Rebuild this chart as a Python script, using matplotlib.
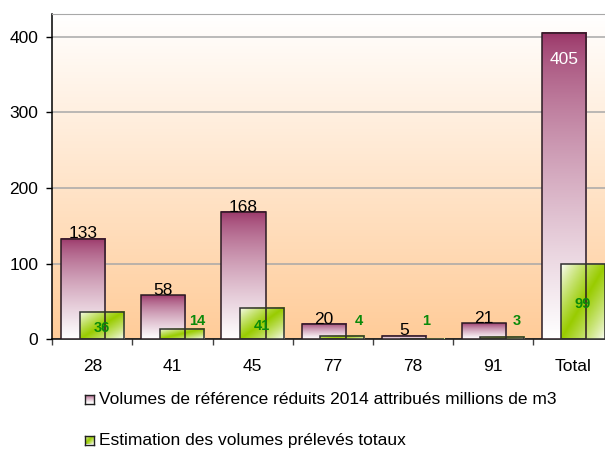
import numpy as np
import matplotlib
matplotlib.use('Agg')
import matplotlib.pyplot as plt
from matplotlib.colors import to_rgb

plt.rcParams['font.family'] = ['Liberation Sans', 'DejaVu Sans']

# data
categories = ['28', '41', '45', '77', '78', '91', 'Total']
volumes_reference = [133, 58, 168, 20, 5, 21, 405]
volumes_preleves = [36, 14, 41, 4, 1, 3, 99]
legend_labels = ['Volumes de référence réduits 2014 attribués millions de m3',
                 'Estimation des volumes prélevés totaux']

PURPLE = to_rgb('#993366')
GREEN = to_rgb('#99cc00')
WHITE = np.array([1.0, 1.0, 1.0])
PEACH = to_rgb('#ffcc99')


def vertical_gradient(top, bottom, n=100, gamma=1.0):
    t = (np.linspace(0, 1, n) ** gamma)[:, None]
    col = (1 - t) * np.array(top) + t * np.array(bottom)
    return col[:, None, :]


def diagonal_gradient(mid, n=60):
    i, j = np.mgrid[0:n, 0:n] / (n - 1)
    t = (i + j) / 2
    w = np.clip(1 - np.abs(t - 0.5) * 2, 0, 1) ** 0.8
    w = w[..., None]
    return w * np.array(mid) + (1 - w) * WHITE


def gradient_bar(ax, x, h, width, img, edge):
    ax.imshow(img, extent=[x - width / 2, x + width / 2, 0, h], aspect='auto',
              interpolation='bilinear', zorder=3)
    ax.bar(x, h, width, facecolor='none', edgecolor=edge, linewidth=1.1, zorder=4)


fig = plt.figure(figsize=(6.05, 4.51), dpi=100)
ax = fig.add_axes([0.0864, 0.2477, 0.9276, 0.7213])

# background gradient of the plot area
ax.imshow(vertical_gradient(WHITE, PEACH), extent=[0, 1, 0, 1], aspect='auto',
          transform=ax.transAxes, interpolation='bilinear', zorder=0)

x = np.arange(len(categories))
width = 0.55
offset = 0.115

purple_img = vertical_gradient(PURPLE, WHITE, gamma=0.7)
green_img = diagonal_gradient(GREEN)

for i in range(len(categories)):
    gradient_bar(ax, x[i] - offset, volumes_reference[i], width, purple_img, '#2a1a22')
    gradient_bar(ax, x[i] + offset, volumes_preleves[i], width, green_img, '#303030')

# value labels, purple series
for i, v in enumerate(volumes_reference):
    if categories[i] == 'Total':
        ax.annotate(str(v), (x[i] - offset, v), xytext=(0, -14), textcoords='offset points',
                    ha='center', va='top', fontsize=12.5, color='white', zorder=5)
    else:
        ax.annotate(str(v), (x[i] - offset, v), xytext=(0, -2), textcoords='offset points',
                    ha='center', va='bottom', fontsize=12.5, color='black', zorder=5)

# value labels, green series
small_dx = {'41': 11, '77': 12, '78': 3, '91': 10}
for i, v in enumerate(volumes_preleves):
    if v >= 30:
        ax.annotate(str(v), (x[i] + offset, v / 2), xytext=(0, -1.5), textcoords='offset points',
                    ha='center', va='center', fontsize=10.5,
                    fontweight='bold', color='#0a8a0a', zorder=5)
    else:
        ax.annotate(str(v), (x[i] + offset, 0), xytext=(small_dx[categories[i]], 13),
                    textcoords='offset points', ha='center', va='center', fontsize=10.5,
                    fontweight='bold', color='#0a8a0a', zorder=5)

ax.set_xlim(-0.5, len(categories) - 0.5)
ax.set_ylim(0, 430)
ax.set_yticks([0, 100, 200, 300, 400])
ax.yaxis.grid(True, color='#a8a8a8', linewidth=1.1, zorder=1)
ax.set_axisbelow(True)

ax.set_xticks(x)
ax.set_xticklabels(categories)
ax.set_xticks(np.arange(-0.5, len(categories), 1), minor=True)
ax.tick_params(axis='x', which='major', length=0, pad=14, labelsize=12.5)
ax.tick_params(axis='x', which='minor', length=4, width=1, color='#404040')
ax.tick_params(axis='y', length=4, width=1, pad=6, labelsize=12.5)

ax.spines['top'].set_color('#a8a8a8')
ax.spines['right'].set_visible(False)
ax.spines['left'].set_linewidth(1.1)
ax.spines['bottom'].set_linewidth(1.1)

# legend drawn below the plot
legend_imgs = [vertical_gradient(PURPLE, WHITE, 20, gamma=0.7), diagonal_gradient(GREEN, 20)]
legend_y = [399, 440]
for img, label, yp in zip(legend_imgs, legend_labels, legend_y):
    lax = fig.add_axes([85 / 605, (451 - yp - 4.5) / 451, 9 / 605, 9 / 451])
    lax.imshow(img, aspect='auto', interpolation='bilinear')
    lax.set_xticks([])
    lax.set_yticks([])
    for s in lax.spines.values():
        s.set_linewidth(1)
        s.set_color('#202020')
    fig.text(99 / 605, (451 - yp) / 451, label, ha='left', va='center', fontsize=12.5)

fig.savefig('out.png', dpi=100)
